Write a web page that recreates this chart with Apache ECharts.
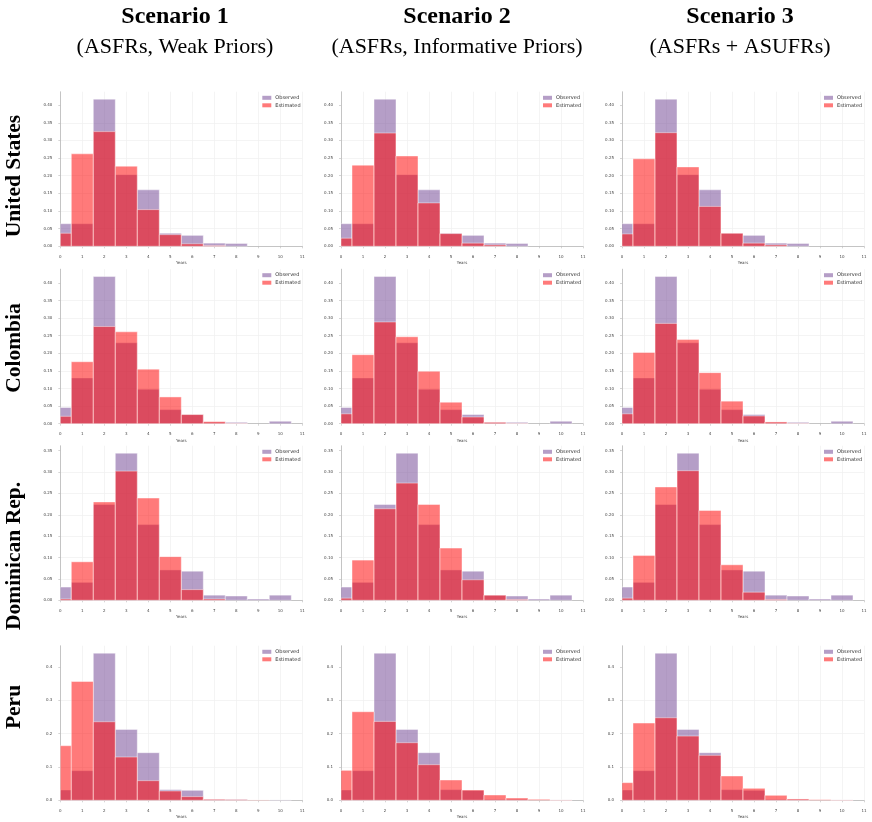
<!DOCTYPE html>
<html>
<head>
<meta charset="utf-8">
<script src="https://cdn.jsdelivr.net/npm/echarts@6/dist/echarts.min.js"></script>
<style>
html,body{margin:0;padding:0;background:#fff;}
#chart{width:872px;height:822px;}
</style>
</head>
<body>
<div id="chart"></div>
<script>
// ---- data ----
const binEdges = [0, 0.5, 1.5, 2.5, 3.5, 4.5, 5.5, 6.5, 7.5, 8.5, 9.5, 10.5];
const countries = ['United States', 'Colombia', 'Dominican Rep.', 'Peru'];
const scenarioTitles = ['Scenario 1', 'Scenario 2', 'Scenario 3'];
const scenarioSubtitles = ['(ASFRs, Weak Priors)', '(ASFRs, Informative Priors)', '(ASFRs + ASUFRs)'];
const xTicks = [0, 1, 2, 3, 4, 5, 6, 7, 8, 9, 10, 11];

const observedUS   = [0.064, 0.064, 0.417, 0.203, 0.160, 0.037, 0.031, 0.009, 0.008, 0, 0];
const estUS_S1     = [0.037, 0.262, 0.325, 0.227, 0.104, 0.033, 0.007, 0.002, 0, 0, 0];
const estUS_S2     = [0.023, 0.230, 0.321, 0.256, 0.123, 0.036, 0.009, 0.004, 0, 0, 0];
const estUS_S3     = [0.035, 0.248, 0.322, 0.225, 0.113, 0.037, 0.009, 0.004, 0, 0, 0];

const observedCOL  = [0.046, 0.130, 0.418, 0.230, 0.098, 0.040, 0.026, 0.004, 0.004, 0, 0.007];
const estCOL_S1    = [0.021, 0.176, 0.276, 0.261, 0.155, 0.076, 0.026, 0.006, 0.001, 0, 0];
const estCOL_S2    = [0.028, 0.196, 0.289, 0.247, 0.149, 0.061, 0.019, 0.004, 0.001, 0, 0];
const estCOL_S3    = [0.028, 0.202, 0.285, 0.239, 0.145, 0.064, 0.022, 0.005, 0.001, 0, 0];

const observedDR   = [0.031, 0.042, 0.224, 0.344, 0.177, 0.071, 0.068, 0.012, 0.010, 0.003, 0.012];
const estDR_S1     = [0.003, 0.090, 0.230, 0.302, 0.239, 0.102, 0.025, 0.003, 0, 0, 0];
const estDR_S2     = [0.005, 0.094, 0.214, 0.274, 0.224, 0.122, 0.048, 0.012, 0.002, 0, 0];
const estDR_S3     = [0.005, 0.105, 0.265, 0.303, 0.210, 0.083, 0.019, 0.002, 0, 0, 0];

const observedPER  = [0.031, 0.089, 0.442, 0.213, 0.143, 0.032, 0.030, 0.003, 0.003, 0, 0.001];
const estPER_S1    = [0.164, 0.357, 0.236, 0.130, 0.059, 0.028, 0.011, 0.003, 0.002, 0.001, 0];
const estPER_S2    = [0.090, 0.266, 0.237, 0.173, 0.107, 0.061, 0.031, 0.016, 0.007, 0.003, 0.001];
const estPER_S3    = [0.053, 0.232, 0.248, 0.193, 0.135, 0.073, 0.036, 0.015, 0.004, 0.002, 0.001];

const yTickStep = [0.05, 0.05, 0.05, 0.1];
const yTickDecimals = [2, 2, 2, 1];

const observedByCountry = [observedUS, observedCOL, observedDR, observedPER];
const estimatedByCountry = [
  [estUS_S1, estUS_S2, estUS_S3],
  [estCOL_S1, estCOL_S2, estCOL_S3],
  [estDR_S1, estDR_S2, estDR_S3],
  [estPER_S1, estPER_S2, estPER_S3]
];

// ---- layout ----
const colLeft = [60.3, 341, 622];
const plotW = 242;
const rowBase = [246.3, 423.7, 600.3, 800.3];
const plotH = 154.5;
const rowLabelY = [176, 348, 556, 707];
const colCenter = [175, 457, 740];

const OBS_COLOR = 'rgba(107,61,143,0.5)';
const EST_COLOR = 'rgba(255,0,0,0.52)';
const SERIF = '"Liberation Serif", "Times New Roman", serif';
const SANS = '"DejaVu Sans", sans-serif';

function toBins(vals) {
  return vals.map((v, i) => [binEdges[i], binEdges[i + 1], v]);
}

function renderHist(params, api) {
  const v = api.value(2);
  if (!(v > 0)) return null;
  const p0 = api.coord([api.value(0), v]);
  const p1 = api.coord([api.value(1), 0]);
  return {
    type: 'rect',
    shape: { x: p0[0], y: p0[1], width: p1[0] - p0[0], height: p1[1] - p0[1] },
    style: { fill: api.visual('color'), stroke: 'rgba(255,255,255,0.55)', lineWidth: 0.8 }
  };
}

const grids = [], xAxes = [], yAxes = [], series = [], legends = [], graphics = [];

for (let r = 0; r < 4; r++) {
  const obs = observedByCountry[r];
  for (let c = 0; c < 3; c++) {
    const est = estimatedByCountry[r][c];
    const idx = grids.length;
    const ymax = Math.max(...obs, ...est) * 1.05;
    const step = yTickStep[r];
    const yTicks = [];
    for (let k = 0; k * step <= ymax + 1e-9; k++) yTicks.push(+(k * step).toFixed(3));
    const top = rowBase[r] - plotH;
    grids.push({ left: colLeft[c], top: top, width: plotW, height: plotH, containLabel: false });
    xAxes.push({
      type: 'value', gridIndex: idx, min: 0, max: 11, interval: 1, offset: 6,
      name: 'Years', nameLocation: 'middle', nameGap: 9,
      nameTextStyle: { fontSize: 4, color: '#444', fontFamily: SANS },
      axisLine: { show: true, lineStyle: { color: '#b8b8b8', width: 0.8 } },
      axisTick: { show: true, length: 2, lineStyle: { color: '#b8b8b8', width: 0.6 } },
      axisLabel: { fontSize: 4, color: '#444', margin: 2.5, fontFamily: SANS,
                   formatter: v => xTicks.includes(v) ? String(v) : '' },
      splitLine: { show: true, lineStyle: { color: '#efefef', width: 0.7 } }
    });
    const dec = yTickDecimals[r];
    yAxes.push({
      type: 'value', gridIndex: idx, min: 0, max: ymax, interval: step, offset: 5,
      axisLine: { show: true, lineStyle: { color: '#b8b8b8', width: 0.8 } },
      axisTick: { show: true, length: 2, lineStyle: { color: '#b8b8b8', width: 0.6 }, customValues: yTicks },
      axisLabel: { fontSize: 4, color: '#444', margin: 3, fontFamily: SANS,
                   customValues: yTicks, formatter: v => (+v).toFixed(dec) },
      splitLine: { show: true, showMaxLine: false, lineStyle: { color: '#efefef', width: 0.7 } }
    });
    series.push({
      name: 'Observed', type: 'custom', xAxisIndex: idx, yAxisIndex: idx,
      renderItem: renderHist, itemStyle: { color: OBS_COLOR },
      encode: { x: [0, 1], y: 2 }, data: toBins(obs), silent: true, z: 2
    });
    series.push({
      name: 'Estimated', type: 'custom', xAxisIndex: idx, yAxisIndex: idx,
      renderItem: renderHist, itemStyle: { color: EST_COLOR },
      encode: { x: [0, 1], y: 2 }, data: toBins(est), silent: true, z: 3
    });
    legends.push({
      data: ['Observed', 'Estimated'], orient: 'vertical',
      left: colLeft[c] + 202, top: top + 3.5, padding: 0, itemGap: 2.5,
      itemWidth: 9, itemHeight: 4, icon: 'rect',
      textStyle: { fontSize: 5, color: '#333', fontFamily: SANS, padding: [0, 0, 0, -1] },
      selectedMode: false
    });
  }
}

for (let c = 0; c < 3; c++) {
  graphics.push({
    type: 'text', x: colCenter[c], y: 17,
    style: { text: scenarioTitles[c], font: 'bold 24px ' + SERIF, fill: '#000', align: 'center', verticalAlign: 'middle' }
  });
  graphics.push({
    type: 'text', x: colCenter[c], y: 47,
    style: { text: scenarioSubtitles[c], font: '22px ' + SERIF, fill: '#000', align: 'center', verticalAlign: 'middle' }
  });
}
for (let r = 0; r < 4; r++) {
  graphics.push({
    type: 'text', x: 14, y: rowLabelY[r], rotation: Math.PI / 2,
    style: { text: countries[r], font: 'bold 21.5px ' + SERIF, fill: '#000', align: 'center', verticalAlign: 'middle' }
  });
}

const chart = echarts.init(document.getElementById('chart'), null, { renderer: 'canvas' });
chart.setOption({
  animation: false,
  backgroundColor: '#fff',
  grid: grids,
  xAxis: xAxes,
  yAxis: yAxes,
  legend: legends,
  series: series,
  graphic: graphics
});
</script>
</body>
</html>
